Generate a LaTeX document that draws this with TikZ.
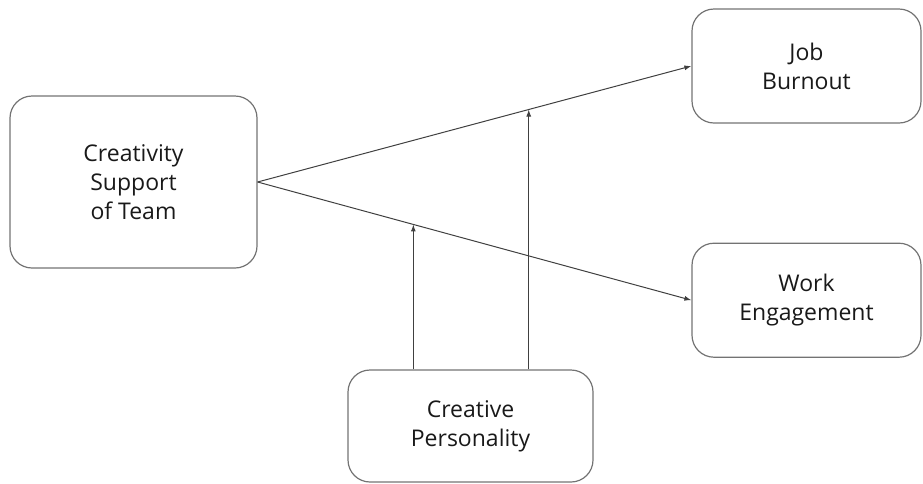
\documentclass[tikz,border=0pt]{standalone}
\usepackage{fontspec}
\setmainfont{Open Sans}
\usetikzlibrary{arrows.meta,positioning,calc}

\begin{document}
\begin{tikzpicture}[
    x=1pt, y=-1pt,
    %–––– GLOBAL STYLE TWEAKS ––––
    font=\fontsize{23}{29}\selectfont,
    >={Latex[length=7pt,width=5pt]},
    box/.style = {rectangle, draw=black!55, line width=1.2pt,
                  rounded corners=22pt, align=center,
                  inner sep=0pt, text=black!90},
    arrow/.style = {->, draw=black!75, line width=1pt},
]
\useasboundingbox (0,0) rectangle (923,483);

%–––– BOXES ––––
\node (team)   [box, minimum width=247pt, minimum height=172pt] at (133.5,182) {Creativity\\Support\\of Team};

\node (burnout) [box, minimum width=229pt, minimum height=114pt] at (806.5,66) {Job\\Burnout};

\node (engage)  [box, minimum width=229pt, minimum height=114pt, below=119pt of burnout] {Work\\Engagement};

\node (person)  [box, minimum width=245pt, minimum height=112pt] at (470.5,426) {Creative\\Personality};

%–––– ARROWS ––––
\foreach \a/\b in {team.east/burnout.west, team.east/engage.west}
  \draw[arrow] (\a) -- (\b);

% moderation points on the two paths
\coordinate (mod_low)  at ($(team.east)!0.359!(engage.west)$);
\coordinate (mod_high) at ($(team.east)!0.625!(burnout.west)$);

\foreach \m in {mod_low, mod_high}
  \draw[arrow] (person.north -| \m) -- (\m);
\end{tikzpicture}
\end{document}
